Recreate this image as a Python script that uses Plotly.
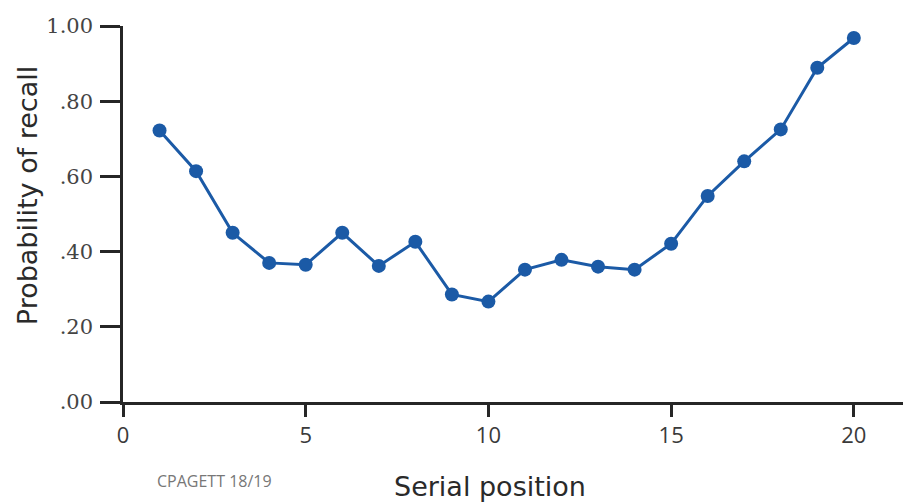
import plotly.graph_objects as go

serial_position = list(range(1, 21))
recall_prob = [0.722, 0.614, 0.450, 0.370, 0.365, 0.450, 0.362, 0.426, 0.286, 0.267,
               0.352, 0.378, 0.360, 0.352, 0.421, 0.548, 0.640, 0.725, 0.889, 0.968]
x_ticks = [0, 5, 10, 15, 20]
y_ticks = [0, 0.2, 0.4, 0.6, 0.8, 1.0]
y_tick_labels = [".00", ".20", ".40", ".60", ".80", "1.00"]

blue = "#1b5aa6"
axis_col = "#262626"

fig = go.Figure(go.Scatter(
    x=serial_position, y=recall_prob, mode="lines+markers",
    line=dict(color=blue, width=3),
    marker=dict(color=blue, size=14),
    hoverinfo="skip",
))

fig.update_layout(
    width=903, height=495,
    margin=dict(l=115, r=6, t=16, b=101),
    paper_bgcolor="white", plot_bgcolor="white",
    showlegend=False,
    xaxis=dict(
        range=[0, 21.4], tickvals=x_ticks, ticktext=[str(v) for v in x_ticks],
        showgrid=False, zeroline=False, showline=True, linecolor=axis_col, linewidth=2.5,
        ticks="outside", ticklen=12, tickwidth=2.5, tickcolor=axis_col,
        tickfont=dict(family="Open Sans", size=22, color="#3a3a3a"),
        fixedrange=True,
    ),
    yaxis=dict(
        range=[0, 1.0], tickvals=y_ticks, ticktext=y_tick_labels,
        showgrid=False, zeroline=False, showline=True, linecolor=axis_col, linewidth=2.5,
        ticks="outside", ticklen=20, tickwidth=2.5, tickcolor=axis_col,
        tickfont=dict(family="DejaVu Serif", size=21, color="#444"),
        ticklabelstandoff=3,
        fixedrange=True,
    ),
    annotations=[
        dict(text="Serial position", xref="paper", yref="paper", x=0.469, y=-0.225,
             xanchor="center", yanchor="middle", showarrow=False,
             font=dict(family="DejaVu Sans", size=27, color="#2a2a2a")),
        dict(text="Probability of recall", xref="paper", yref="paper", x=-0.1228, y=0.55,
             xanchor="center", yanchor="middle", showarrow=False, textangle=-90,
             font=dict(family="DejaVu Sans", size=27, color="#2a2a2a")),
        dict(text="CPAGETT 18/19", xref="paper", yref="paper", x=0.041, y=-0.209,
             xanchor="left", yanchor="middle", showarrow=False,
             font=dict(family="Liberation Sans Narrow, Open Sans", size=16, color="#777")),
    ],
)

fig.write_html("out.html")
